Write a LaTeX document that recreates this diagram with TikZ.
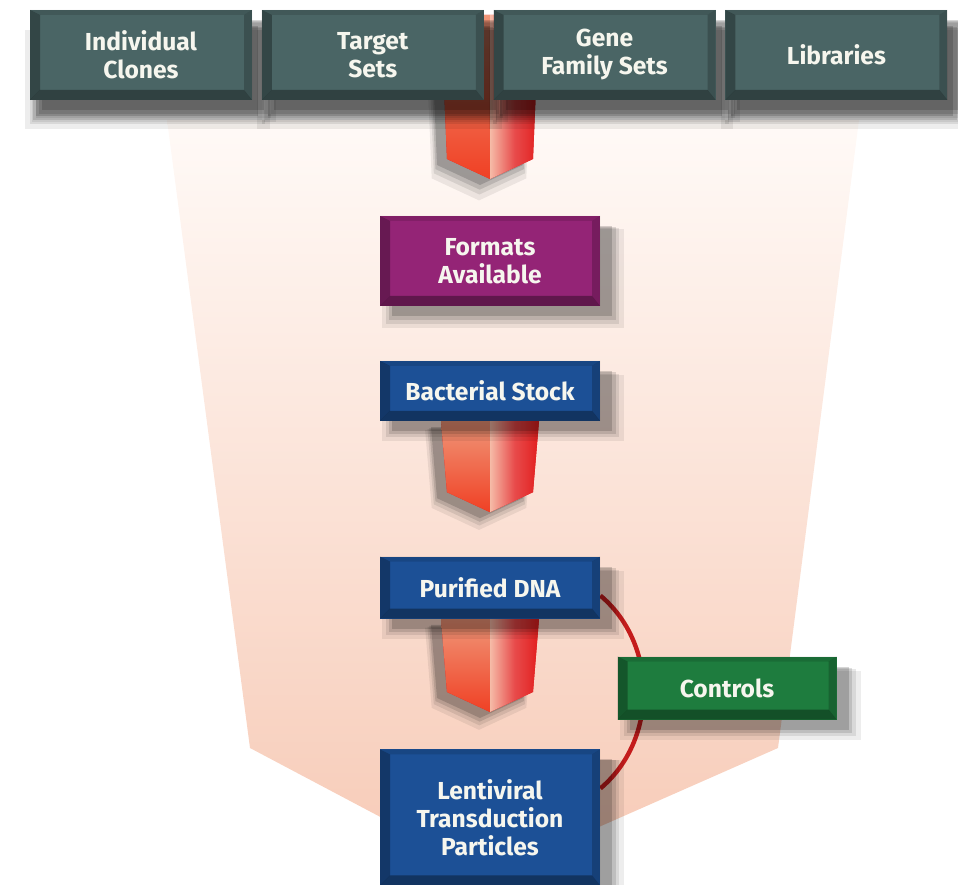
\documentclass[tikz,border=0pt]{standalone}
\usepackage{fontspec}
\setmainfont{Fira Sans}
\usepackage{tikz}
\usetikzlibrary{positioning,calc,backgrounds,shadows}

\definecolor{tealbox}{RGB}{74,101,101}
\definecolor{purplebox}{RGB}{148,36,118}
\definecolor{bluebox}{RGB}{28,80,150}
\definecolor{greenbox}{RGB}{30,124,62}
\definecolor{boxtext}{RGB}{246,246,238}
\definecolor{funtop}{RGB}{255,250,247}
\definecolor{funbot}{RGB}{247,202,182}
\definecolor{arrowhi}{RGB}{240,150,120}
\definecolor{arrowlo}{RGB}{240,64,36}
\definecolor{arrowred}{RGB}{226,30,30}
\definecolor{arcred}{RGB}{196,28,28}

\begin{document}
\begin{tikzpicture}[
  x=0.5pt,y=0.5pt,
  bevel/.style={path picture={
    \path (path picture bounding box.south west) coordinate (bl)
          (path picture bounding box.north west) coordinate (tl)
          (path picture bounding box.north east) coordinate (tr)
          (path picture bounding box.south east) coordinate (br)
          ($(bl)+(5pt,5pt)$) coordinate (ibl)
          ($(tl)+(5pt,-2.5pt)$) coordinate (itl)
          ($(tr)+(-4pt,-2.5pt)$) coordinate (itr)
          ($(br)+(-4pt,5pt)$) coordinate (ibr);
    \fill[black,opacity=.3] (bl) -- (tl) -- (itl) -- (ibl) -- cycle;
    \fill[black,opacity=.35] (bl) -- (ibl) -- (ibr) -- (br) -- cycle;
    \fill[black,opacity=.12] (tl) -- (tr) -- (itr) -- (itl) -- cycle;
    \fill[black,opacity=.2] (tr) -- (br) -- (ibr) -- (itr) -- cycle;
  }},
  softshadow/.style 2 args={
    general shadow={fill=black,opacity=.07,shadow xshift=#1,shadow yshift=-#2-3pt,shadow scale=1.1},
    general shadow={fill=black,opacity=.09,shadow xshift=#1,shadow yshift=-#2-2pt,shadow scale=1.06},
    general shadow={fill=black,opacity=.12,shadow xshift=#1,shadow yshift=-#2-1pt,shadow scale=1.03},
    general shadow={fill=black,opacity=.16,shadow xshift=#1,shadow yshift=-#2}},
  box/.style={rectangle,bevel,align=center,text=boxtext,inner sep=2pt,
    font=\bfseries\fontsize{12.3}{14}\selectfont,minimum width=110pt,softshadow={6pt}{5pt}},
  topbox/.style={box,fill=tealbox,minimum width=111pt,minimum height=45pt,softshadow={3pt}{8pt}},
  arc/.style={arcred,line width=2.2pt}
]
\useasboundingbox (0,0) rectangle (958,884);

% top row
\node[topbox] (ic) at (141,829) {Individual\\Clones};
\node[topbox,right=4.5pt of ic] (ts) {Target\\Sets};
\node[topbox,right=4.5pt of ts] (gf) {Gene\\Family Sets};
\node[topbox,right=4.5pt of gf] (lb) {Libraries};

% main column
\node[box,fill=purplebox,minimum height=45pt] (fm) at (490,623) {Formats\\Available};
\node[box,fill=bluebox,minimum height=30pt,below=27pt of fm] (bs) {Bacterial Stock};
\node[box,fill=bluebox,minimum height=31pt,below=67.5pt of bs] (pd) {Purified DNA};
\node[box,fill=bluebox,minimum height=68pt,below=65pt of pd] (lv) {Lentiviral\\Transduction\\Particles};
\node[box,fill=greenbox,minimum width=109.5pt,minimum height=31.5pt] (ct) at (727,196) {Controls};

\coordinate (src) at (490,869);
\coordinate (t1) at (490,705);
\coordinate (t2) at ($(bs.south)+(0,-91)$);
\coordinate (t3) at ($(pd.south)+(0,-93)$);

\begin{scope}[on background layer]
  % funnel
  \shade[top color=funtop,bottom color=funbot]
    (167,764) -- (859,764) -- (778,136) -- (490,9) -- (250,136) -- cycle;
  % block arrows
  \foreach \s/\t in {src/t1,bs.south/t2,pd.south/t3}{
    \fill[arrowred,softshadow={-5pt}{3pt}]
      ($(\s)+(-49,0)$) -- ($(\s)+(49,0)$) -- ($(\t)+(43,20)$) -- (\t) -- ($(\t)+(-43,20)$) -- cycle;
    \shade[top color=arrowhi,bottom color=arrowlo]
      ($(\s)+(-49,0)$) -- (\s) -- (\t) -- ($(\t)+(-43,20)$) -- cycle;
    \shade[left color=arrowhi!65!white,right color=arrowred,middle color=arrowred!80!white]
      (\s) -- ($(\s)+(49,0)$) -- ($(\t)+(43,20)$) -- (\t) -- cycle;
  }
  % link through controls
  \draw[arc] ([yshift=-4pt]pd.east) to[out=-40,in=40] ([yshift=14.5pt]lv.east);
\end{scope}
\end{tikzpicture}
\end{document}
